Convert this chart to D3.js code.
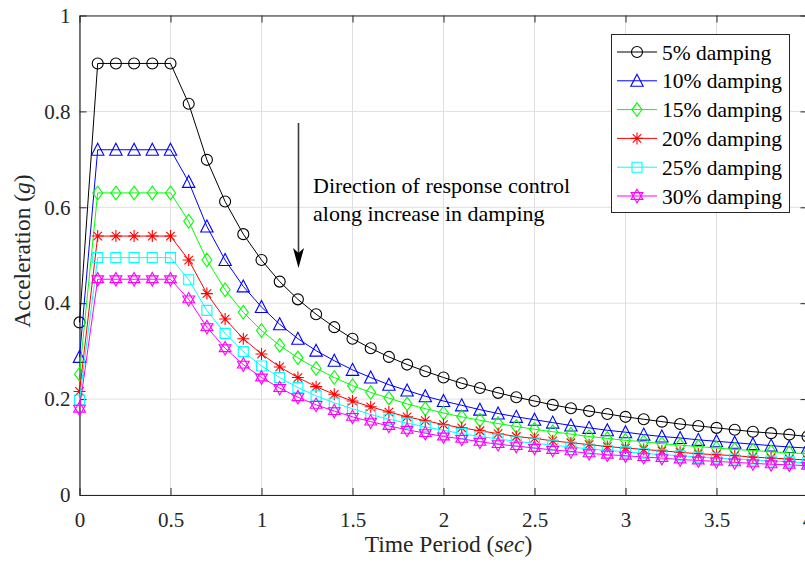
<!DOCTYPE html>
<html>
<head>
<meta charset="utf-8">
<script src="https://cdn.jsdelivr.net/npm/d3@7"></script>
<style>
  body { margin: 0; background: #fff; }
  svg { display: block; font-family: "Liberation Serif", "Times New Roman", serif; }
</style>
</head>
<body>
<div id="chart"></div>
<script>
'use strict';
/* global d3: false */

// time periods (sec)
var periods = [0, 0.1, 0.2, 0.3, 0.4, 0.5, 0.6, 0.7, 0.8, 0.9, 1.0,
  1.1, 1.2, 1.3, 1.4, 1.5, 1.6, 1.7, 1.8, 1.9, 2.0,
  2.1, 2.2, 2.3, 2.4, 2.5, 2.6, 2.7, 2.8, 2.9, 3.0,
  3.1, 3.2, 3.3, 3.4, 3.5, 3.6, 3.7, 3.8, 3.9, 4.0];

// spectral acceleration (g) per damping ratio
var damp5 = [0.360, 0.900, 0.900, 0.900, 0.900, 0.900, 0.816, 0.699, 0.612, 0.544, 0.490,
  0.445, 0.408, 0.377, 0.350, 0.326, 0.306, 0.288, 0.272, 0.258, 0.245,
  0.233, 0.223, 0.213, 0.204, 0.196, 0.188, 0.181, 0.175, 0.169, 0.163,
  0.158, 0.153, 0.148, 0.144, 0.140, 0.136, 0.132, 0.129, 0.126, 0.122];
var damp10 = [0.288, 0.720, 0.720, 0.720, 0.720, 0.720, 0.653, 0.560, 0.490, 0.435, 0.392,
  0.356, 0.326, 0.301, 0.280, 0.261, 0.245, 0.230, 0.218, 0.206, 0.196,
  0.187, 0.178, 0.170, 0.163, 0.157, 0.151, 0.145, 0.140, 0.135, 0.131,
  0.126, 0.122, 0.119, 0.115, 0.112, 0.109, 0.106, 0.103, 0.100, 0.098];
var damp15 = [0.252, 0.630, 0.630, 0.630, 0.630, 0.630, 0.571, 0.490, 0.428, 0.381, 0.343,
  0.312, 0.286, 0.264, 0.245, 0.228, 0.214, 0.202, 0.190, 0.180, 0.171,
  0.163, 0.156, 0.149, 0.143, 0.137, 0.132, 0.127, 0.122, 0.118, 0.114,
  0.111, 0.107, 0.104, 0.101, 0.098, 0.095, 0.093, 0.090, 0.088, 0.086];
var damp20 = [0.216, 0.540, 0.540, 0.540, 0.540, 0.540, 0.490, 0.420, 0.367, 0.326, 0.294,
  0.267, 0.245, 0.226, 0.210, 0.196, 0.184, 0.173, 0.163, 0.155, 0.147,
  0.140, 0.134, 0.128, 0.122, 0.118, 0.113, 0.109, 0.105, 0.101, 0.098,
  0.095, 0.092, 0.089, 0.086, 0.084, 0.082, 0.079, 0.077, 0.075, 0.073];
var damp25 = [0.198, 0.495, 0.495, 0.495, 0.495, 0.495, 0.449, 0.385, 0.337, 0.299, 0.269,
  0.245, 0.224, 0.207, 0.192, 0.180, 0.168, 0.158, 0.150, 0.142, 0.135,
  0.128, 0.122, 0.117, 0.112, 0.108, 0.104, 0.100, 0.096, 0.093, 0.090,
  0.087, 0.084, 0.082, 0.079, 0.077, 0.075, 0.073, 0.071, 0.069, 0.067];
var damp30 = [0.180, 0.450, 0.450, 0.450, 0.450, 0.450, 0.408, 0.350, 0.306, 0.272, 0.245,
  0.223, 0.204, 0.188, 0.175, 0.163, 0.153, 0.144, 0.136, 0.129, 0.122,
  0.117, 0.111, 0.106, 0.102, 0.098, 0.094, 0.091, 0.087, 0.084, 0.082,
  0.079, 0.077, 0.074, 0.072, 0.070, 0.068, 0.066, 0.064, 0.063, 0.061];

var seriesNames = ['5% damping', '10% damping', '15% damping', '20% damping', '25% damping', '30% damping'];
var seriesValues = [damp5, damp10, damp15, damp20, damp25, damp30];

var xTicks = [0, 0.5, 1, 1.5, 2, 2.5, 3, 3.5, 4];
var yTicks = [0, 0.2, 0.4, 0.6, 0.8, 1];

var noteLines = ['Direction of response control', 'along increase in damping'];

/* styling */
var colors = ['#000000', '#0000ff', '#00ff00', '#ff0000', '#00ffff', '#ff00ff'];
var markerKinds = ['circle', 'triangle', 'diamond', 'asterisk', 'square', 'hexagram'];
var axisColor = '#262626';
var gridColor = '#dfdfdf';
var serif = '"Liberation Serif", "Times New Roman", serif';

var W = 805, H = 564;
var plotL = 79.5, plotT = 15.5, plotR = 807.5, plotB = 495;

var x = d3.scaleLinear().domain([0, 4]).range([plotL, plotR]);
var y = d3.scaleLinear().domain([0, 1]).range([plotB, plotT]);

var svg = d3.select('#chart').append('svg')
  .attr('width', W)
  .attr('height', H);

/* marker shapes, centred at 0,0 */
var markerPath = function markerPath(kind) {
  var p, i, a;
  if (kind === 'circle') {
    return 'M5.5,0A5.5,5.5 0 1,1 -5.5,0A5.5,5.5 0 1,1 5.5,0Z';
  } else if (kind === 'triangle') {
    return 'M0,-6.5L6.2,5.5L-6.2,5.5Z';
  } else if (kind === 'diamond') {
    return 'M0,-6.8L5,0L0,6.8L-5,0Z';
  } else if (kind === 'square') {
    return 'M-5,-5L5,-5L5,5L-5,5Z';
  } else if (kind === 'asterisk') {
    p = '';
    for (i = 0; i < 4; i++) {
      a = i * Math.PI / 4;
      p += 'M' + (6 * Math.cos(a)) + ',' + (6 * Math.sin(a)) +
        'L' + (-6 * Math.cos(a)) + ',' + (-6 * Math.sin(a));
    }
    return p;
  } else {
    // hexagram: two overlapping triangles
    var tri = function (off) {
      var s = '';
      for (var k = 0; k < 3; k++) {
        var ang = off + k * 2 * Math.PI / 3;
        s += (k === 0 ? 'M' : 'L') + (6.8 * Math.sin(ang)) + ',' + (-6.8 * Math.cos(ang));
      }
      return s + 'Z';
    };
    return tri(0) + tri(Math.PI);
  }
};

/* grid */
var grid = svg.append('g');
grid.selectAll('line.gx').data(xTicks).enter().append('line')
  .attr('x1', function (d) { return x(d); })
  .attr('x2', function (d) { return x(d); })
  .attr('y1', plotT)
  .attr('y2', plotB)
  .style('stroke', gridColor)
  .style('stroke-width', 1);
grid.selectAll('line.gy').data(yTicks).enter().append('line')
  .attr('x1', plotL)
  .attr('x2', plotR)
  .attr('y1', function (d) { return y(d); })
  .attr('y2', function (d) { return y(d); })
  .style('stroke', gridColor)
  .style('stroke-width', 1);

/* axes, ticks pointing inward */
var fmt = function (d) { return String(d); };

var styleAxis = function styleAxis(g) {
  g.attr('font-family', serif).attr('font-size', 21);
  g.selectAll('path.domain').style('stroke', axisColor).style('stroke-width', 1.2);
  g.selectAll('.tick line').style('stroke', axisColor).style('stroke-width', 1);
  g.selectAll('.tick text')
    .style('fill', axisColor)
    .style('font-size', '21px')
    .style('font-family', serif);
};

svg.append('g')
  .attr('transform', 'translate(0,' + plotB + ')')
  .call(d3.axisBottom(x).tickValues(xTicks).tickFormat(fmt).tickSizeInner(-7).tickSizeOuter(0).tickPadding(17))
  .call(styleAxis);
svg.append('g')
  .attr('transform', 'translate(0,' + plotT + ')')
  .call(d3.axisTop(x).tickValues(xTicks).tickFormat('').tickSizeInner(-7).tickSizeOuter(0))
  .call(styleAxis);
svg.append('g')
  .attr('transform', 'translate(' + plotL + ',0)')
  .call(d3.axisLeft(y).tickValues(yTicks).tickFormat(fmt).tickSizeInner(-7).tickSizeOuter(0).tickPadding(9))
  .call(styleAxis);
svg.append('g')
  .attr('transform', 'translate(' + plotR + ',0)')
  .call(d3.axisRight(y).tickValues(yTicks).tickFormat('').tickSizeInner(-7).tickSizeOuter(0))
  .call(styleAxis);

/* axis titles */
var xTitle = svg.append('text')
  .attr('x', (plotL + plotR) / 2 + 5)
  .attr('y', 552)
  .attr('text-anchor', 'middle')
  .style('font-size', '23.5px')
  .style('fill', axisColor);
xTitle.append('tspan').text('Time Period (');
xTitle.append('tspan').style('font-style', 'italic').text('sec');
xTitle.append('tspan').text(')');

var yTitle = svg.append('text')
  .attr('transform', 'translate(30,' + 251 + ') rotate(-90)')
  .attr('text-anchor', 'middle')
  .style('font-size', '23.5px')
  .style('fill', axisColor);
yTitle.append('tspan').text('Acceleration (');
yTitle.append('tspan').style('font-style', 'italic').text('g');
yTitle.append('tspan').text(')');

/* series */
var line = d3.line()
  .x(function (d, i) { return x(periods[i]); })
  .y(function (d) { return y(d); });

seriesValues.forEach(function (vals, s) {
  var g = svg.append('g');
  g.append('path')
    .attr('d', line(vals))
    .style('fill', 'none')
    .style('stroke', colors[s])
    .style('stroke-width', 1);
  g.selectAll('path.mk').data(vals).enter().append('path')
    .attr('class', 'mk')
    .attr('transform', function (d, i) { return 'translate(' + x(periods[i]) + ',' + y(d) + ')'; })
    .attr('d', markerPath(markerKinds[s]))
    .style('fill', 'none')
    .style('stroke', colors[s])
    .style('stroke-width', 1.1);
});

/* annotation arrow + text */
svg.append('line')
  .attr('x1', 298.5).attr('y1', 123)
  .attr('x2', 298.5).attr('y2', 254)
  .style('stroke', '#3c3c3c')
  .style('stroke-width', 1.6);
svg.append('path')
  .attr('d', 'M298.5,268L293,248L298.5,253L304,248Z')
  .style('fill', '#000');

svg.append('g').selectAll('text').data(noteLines).enter().append('text')
  .attr('x', 313)
  .attr('y', function (d, i) { return 193 + i * 28; })
  .style('font-size', '22px')
  .style('fill', '#000')
  .text(function (d) { return d; });

/* legend */
var legX = 611, legY = 34, legW = 178, legH = 178, rowH = 28.8;
var legend = svg.append('g');
legend.append('rect')
  .attr('x', legX + 0.5).attr('y', legY + 0.5)
  .attr('width', legW).attr('height', legH)
  .style('fill', '#fff')
  .style('stroke', axisColor)
  .style('stroke-width', 1);

seriesNames.forEach(function (name, s) {
  var cy = legY + 18 + s * rowH;
  legend.append('line')
    .attr('x1', legX + 6).attr('x2', legX + 46)
    .attr('y1', cy).attr('y2', cy)
    .style('stroke', colors[s])
    .style('stroke-width', 1);
  legend.append('path')
    .attr('transform', 'translate(' + (legX + 26) + ',' + cy + ')')
    .attr('d', markerPath(markerKinds[s]))
    .style('fill', 'none')
    .style('stroke', colors[s])
    .style('stroke-width', 1.1);
  legend.append('text')
    .attr('x', legX + 51)
    .attr('y', cy)
    .attr('dy', '0.35em')
    .style('font-size', '21.5px')
    .style('fill', '#000')
    .text(name);
});
</script>
</body>
</html>
